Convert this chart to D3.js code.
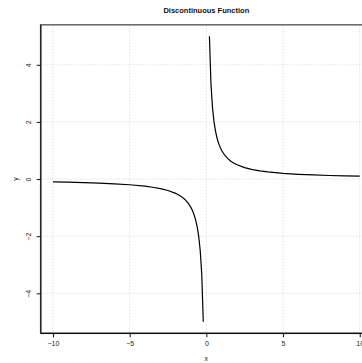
<!DOCTYPE html>
<html>
<head>
<meta charset="utf-8">
<script src="https://cdn.jsdelivr.net/npm/d3@7"></script>
<style>
  html, body { margin: 0; padding: 0; background: #fff; overflow: hidden; }
  svg { display: block; font-family: "Liberation Sans", Arial, sans-serif; }
</style>
</head>
<body>
<svg id="chart" width="362" height="363"></svg>
<script>
// Negative branch of y = 1/x (x < 0)
const xNeg = [-10, -9, -8, -7, -6, -5, -4, -3.5, -3, -2.5, -2, -1.8, -1.6, -1.4, -1.2, -1, -0.9, -0.8, -0.7, -0.6, -0.5, -0.4, -0.3, -0.2];
const yNeg = [-0.1, -0.111, -0.125, -0.143, -0.167, -0.2, -0.25, -0.286, -0.333, -0.4, -0.5, -0.556, -0.625, -0.714, -0.833, -1, -1.111, -1.25, -1.429, -1.667, -2, -2.5, -3.333, -5];
// Positive branch (x > 0)
const xPos = [0.2, 0.3, 0.4, 0.5, 0.6, 0.7, 0.8, 0.9, 1, 1.2, 1.4, 1.6, 1.8, 2, 2.5, 3, 3.5, 4, 5, 6, 7, 8, 9, 10];
const yPos = [5, 3.333, 2.5, 2, 1.667, 1.429, 1.25, 1.111, 1, 0.833, 0.714, 0.625, 0.556, 0.5, 0.4, 0.333, 0.286, 0.25, 0.2, 0.167, 0.143, 0.125, 0.111, 0.1];

const xTicks = [-10, -5, 0, 5, 10];
const yTicks = [-4, -2, 0, 2, 4];
const xDomain = [-10.8, 10.8];
const yDomain = [-5.4, 5.4];

const svg = d3.select("#chart");
const plotLeft = 40.7, plotRight = 372, plotTop = 24.8, plotBottom = 333.3;

const x = d3.scaleLinear().domain(xDomain).range([plotLeft, plotRight]);
const y = d3.scaleLinear().domain(yDomain).range([plotBottom, plotTop]);

// Dotted grid at tick positions
const grid = svg.append("g").attr("stroke", "#d9d9d9").attr("stroke-width", 0.8).attr("stroke-dasharray", "1.5,1.5");
grid.selectAll("line.v").data(xTicks).join("line").attr("class", "v")
  .attr("x1", d => x(d)).attr("x2", d => x(d)).attr("y1", plotTop).attr("y2", plotBottom);
grid.selectAll("line.h").data(yTicks).join("line").attr("class", "h")
  .attr("x1", plotLeft).attr("x2", plotRight).attr("y1", d => y(d)).attr("y2", d => y(d));

// Curve segments
const line = d3.line().x(d => x(d[0])).y(d => y(d[1]));
const branches = [d3.zip(xNeg, yNeg), d3.zip(xPos, yPos)];
svg.append("g").selectAll("path").data(branches).join("path")
  .attr("d", line).attr("fill", "none").attr("stroke", "#000").attr("stroke-width", 1.2);

// Plot frame
svg.append("rect").attr("x", plotLeft).attr("y", plotTop).attr("width", plotRight - plotLeft).attr("height", plotBottom - plotTop)
  .attr("fill", "none").attr("stroke", "#6e6e6e").attr("stroke-width", 1.6);

// Axes
const fmt = d => d3.format("")(d).replace("-", "\u2212");
const xAxis = d3.axisBottom(x).tickValues(xTicks).tickSize(4).tickPadding(4).tickFormat(fmt);
const gx = svg.append("g").attr("transform", `translate(0,${plotBottom})`).call(xAxis);
gx.select(".domain").attr("d", `M${plotLeft},0H${plotRight}`).attr("stroke", "#111").attr("stroke-width", 1.3);
gx.selectAll(".tick line").attr("stroke", "#111");
gx.selectAll(".tick text").attr("font-size", 7).attr("fill", "#222").attr("font-family", "Liberation Sans, Arial, sans-serif");

const yAxis = d3.axisLeft(y).tickValues(yTicks).tickSize(4).tickPadding(0).tickFormat(fmt);
const gy = svg.append("g").attr("transform", `translate(${plotLeft},0)`).call(yAxis);
gy.select(".domain").attr("d", `M0,${plotTop}V${plotBottom}`).attr("stroke", "#222").attr("stroke-width", 1.3);
gy.selectAll(".tick line").attr("stroke", "#111");
gy.selectAll(".tick text")
  .attr("font-size", 7).attr("fill", "#222").attr("font-family", "Liberation Sans, Arial, sans-serif")
  .attr("x", null).attr("dy", null)
  .attr("text-anchor", "middle")
  .attr("transform", "translate(-11.5,0) rotate(-90)")
  .attr("y", 0).attr("dominant-baseline", "middle");

// Titles
svg.append("text").attr("x", (plotLeft + plotRight) / 2).attr("y", 13).attr("text-anchor", "middle")
  .attr("font-size", 7.5).attr("font-weight", "bold").attr("fill", "#111").text("Discontinuous Function");
svg.append("text").attr("x", (plotLeft + plotRight) / 2).attr("y", 361).attr("text-anchor", "middle")
  .attr("font-size", 7).attr("fill", "#222").text("x");
svg.append("text").attr("transform", `translate(16,${(plotTop + plotBottom) / 2}) rotate(-90)`)
  .attr("text-anchor", "middle").attr("dominant-baseline", "middle")
  .attr("font-size", 7).attr("fill", "#222").text("y");
</script>
</body>
</html>
